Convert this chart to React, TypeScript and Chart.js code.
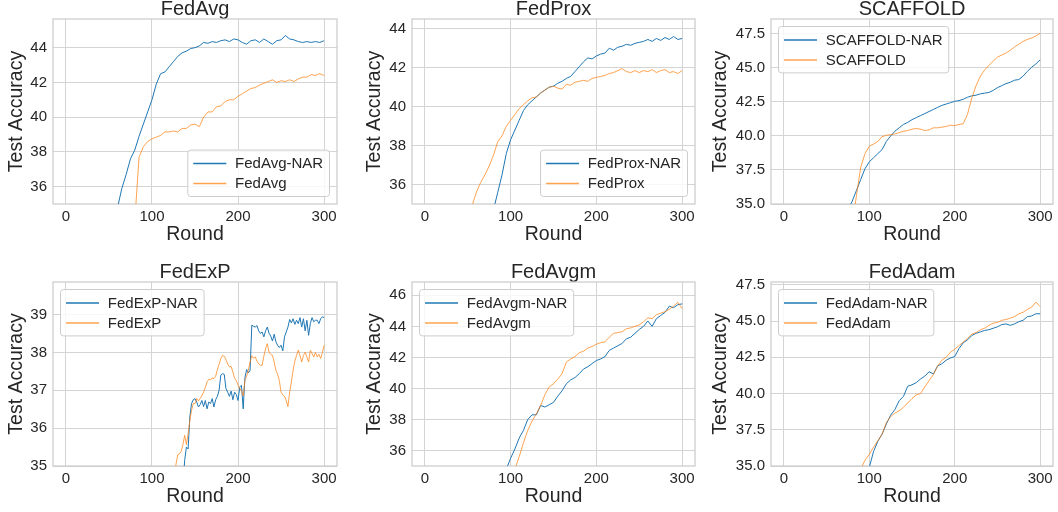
import React, { useEffect, useRef } from 'react';
import { Chart, registerables } from 'chart.js';

Chart.register(...registerables);

const FONT = '"Liberation Sans", Arial, Helvetica, sans-serif';
const TEXT = '#262626';
const GRID = '#d4d4d4';
const BLUE = '#1f77b4';
const ORANGE = 'rgba(255,127,14,0.72)';

// Communication rounds; each series below ends at round 300 and is aligned to the tail of its round list
const ROUNDS_5 = [0, 5, 10, 15, 20, 25, 30, 35, 40, 45, 50, 55, 60, 65, 70, 75, 80, 85, 90, 95,
  100, 105, 110, 115, 120, 125, 130, 135, 140, 145, 150, 155, 160, 165, 170, 175, 180, 185, 190, 195,
  200, 205, 210, 215, 220, 225, 230, 235, 240, 245, 250, 255, 260, 265, 270, 275, 280, 285, 290, 295, 300];
const ROUNDS_2 = [0, 2, 4, 6, 8, 10, 12, 14, 16, 18, 20, 22, 24, 26, 28, 30, 32, 34, 36, 38, 40, 42, 44, 46, 48,
  50, 52, 54, 56, 58, 60, 62, 64, 66, 68, 70, 72, 74, 76, 78, 80, 82, 84, 86, 88, 90, 92, 94, 96, 98,
  100, 102, 104, 106, 108, 110, 112, 114, 116, 118, 120, 122, 124, 126, 128, 130, 132, 134, 136, 138,
  140, 142, 144, 146, 148, 150, 152, 154, 156, 158, 160, 162, 164, 166, 168, 170, 172, 174, 176, 178,
  180, 182, 184, 186, 188, 190, 192, 194, 196, 198, 200, 202, 204, 206, 208, 210, 212, 214, 216, 218,
  220, 222, 224, 226, 228, 230, 232, 234, 236, 238, 240, 242, 244, 246, 248, 250, 252, 254, 256, 258,
  260, 262, 264, 266, 268, 270, 272, 274, 276, 278, 280, 282, 284, 286, 288, 290, 292, 294, 296, 298, 300];

const X_TICKS = [0, 100, 200, 300];

// FedAvg (every 5 rounds)
const FEDAVG_NAR = [33.5, 34.8, 35.9, 36.7, 37.6, 38.1, 38.9, 39.6, 40.3, 41.0, 41.9, 42.5, 42.6, 42.9, 43.2, 43.5, 43.7, 43.8, 43.95, 44.0, 44.1, 44.3, 44.25, 44.35, 44.3, 44.4, 44.45, 44.35, 44.5, 44.45, 44.3, 44.2, 44.4, 44.45, 44.3, 44.5, 44.35, 44.2, 44.4, 44.45, 44.7, 44.5, 44.45, 44.35, 44.3, 44.35, 44.3, 44.35, 44.3, 44.4];
const FEDAVG = [34.0, 37.7, 38.3, 38.6, 38.75, 38.85, 38.95, 39.15, 39.15, 39.2, 39.15, 39.35, 39.35, 39.55, 39.6, 39.45, 40.0, 40.3, 40.3, 40.6, 40.65, 40.9, 41.0, 41.0, 41.2, 41.35, 41.5, 41.65, 41.7, 41.85, 41.95, 42.05, 42.15, 42.0, 42.1, 42.05, 42.15, 42.05, 42.2, 42.3, 42.3, 42.45, 42.4, 42.5, 42.4];
const FEDAVG_Y_TICKS = [36, 38, 40, 42, 44];

// FedProx (every 5 rounds)
const FEDPROX_NAR = [33.8, 34.7, 35.6, 36.5, 37.6, 38.3, 38.8, 39.3, 39.8, 40.1, 40.3, 40.5, 40.7, 40.85, 41.0, 41.05, 41.2, 41.3, 41.45, 41.55, 41.8, 42.05, 42.3, 42.5, 42.45, 42.6, 42.7, 42.75, 43.0, 42.9, 43.05, 43.1, 43.2, 43.15, 43.25, 43.3, 43.35, 43.45, 43.35, 43.5, 43.4, 43.55, 43.45, 43.6, 43.45, 43.5];
const FEDPROX = [34.2, 34.9, 35.6, 36.1, 36.5, 36.95, 37.5, 38.2, 38.5, 39.0, 39.3, 39.6, 39.9, 40.1, 40.3, 40.45, 40.5, 40.7, 40.85, 41.0, 41.05, 40.95, 40.9, 41.15, 41.1, 41.25, 41.3, 41.35, 41.3, 41.45, 41.5, 41.55, 41.6, 41.7, 41.75, 41.85, 41.95, 41.8, 41.75, 41.85, 41.75, 41.85, 41.8, 41.9, 41.75, 41.85, 41.9, 41.75, 41.8, 41.7, 41.85];
const FEDPROX_Y_TICKS = [36, 38, 40, 42, 44];

// SCAFFOLD (every 5 rounds)
const SCAFFOLD_NAR = [34.6, 35.2, 36.0, 36.8, 37.6, 38.1, 38.4, 38.7, 39.0, 39.6, 40.0, 40.35, 40.6, 40.85, 41.0, 41.2, 41.35, 41.5, 41.65, 41.8, 41.95, 42.1, 42.25, 42.35, 42.45, 42.55, 42.6, 42.7, 42.85, 42.95, 43.0, 43.1, 43.15, 43.2, 43.35, 43.55, 43.7, 43.85, 43.95, 44.1, 44.15, 44.4, 44.75, 45.05, 45.3, 45.6];
const SCAFFOLD = [33.5, 35.6, 37.7, 38.7, 39.25, 39.4, 39.6, 39.95, 40.05, 40.1, 40.15, 40.25, 40.35, 40.4, 40.5, 40.55, 40.5, 40.4, 40.45, 40.6, 40.6, 40.65, 40.7, 40.8, 40.75, 40.85, 40.9, 41.6, 42.8, 43.7, 44.4, 44.85, 45.2, 45.5, 45.8, 45.95, 46.1, 46.3, 46.55, 46.75, 46.95, 47.1, 47.2, 47.35, 47.55];
const SCAFFOLD_Y_TICKS = [35, 37.5, 40, 42.5, 45, 47.5];

// FedExP (every 2 rounds)
const FEDEXP_NAR = [34.5, 35.15, 35.5, 35.45, 36.3, 36.65, 36.75, 36.78, 36.69, 36.56, 36.62, 36.73, 36.57, 36.73, 36.51, 36.69, 36.65, 36.78, 36.56, 36.75,
  36.84, 37.0, 37.4, 37.44, 37.42, 37.04, 36.95, 36.84, 36.98, 36.75, 36.95, 36.89, 36.73, 37.09, 37.13, 36.51, 37.33, 37.55, 37.46, 37.53,
  38.72, 38.69, 38.67, 38.71, 38.57, 38.5, 38.54, 38.41, 38.57, 38.67, 38.51, 38.43, 38.3, 38.48, 38.28, 38.19, 38.13, 38.19, 38.04, 38.41,
  38.54, 38.67, 38.87, 38.78, 38.89, 38.74, 38.85, 38.76, 38.92, 38.67, 38.89, 38.57, 38.85, 38.45, 38.76, 38.92, 38.81, 38.85, 38.85, 38.76,
  38.89, 38.94, 38.92];
const FEDEXP = [34.7, 35.06, 35.3, 35.32, 35.39, 35.57, 35.81, 35.57, 35.85, 36.2, 36.47, 36.65, 36.65, 36.78, 36.72, 36.78, 36.86, 36.95, 37.07, 37.22,
  37.29, 37.28, 37.32, 37.31, 37.37, 37.55, 37.69, 37.84, 37.92, 37.9, 37.81, 37.69, 37.62, 37.63, 37.48, 37.32, 37.26, 37.14, 37.05, 36.98,
  36.85, 37.26, 37.37, 37.53, 37.75, 37.91, 37.85, 37.88, 37.77, 37.7, 37.66, 37.66, 37.9, 38.1, 38.23, 38.01, 37.95, 37.92, 37.75, 37.53,
  37.42, 37.26, 36.95, 36.87, 36.84, 36.73, 36.57, 36.95, 37.22, 37.53, 37.77, 37.92, 38.06, 37.92, 37.75, 37.92, 38.01, 37.88, 37.75, 38.06,
  37.97, 37.88, 38.0, 37.88, 37.95, 37.84, 37.99, 38.19];
const FEDEXP_Y_TICKS = [35, 36, 37, 38, 39];

// FedAvgm (every 5 rounds)
const FEDAVGM_NAR = [34.3, 34.8, 35.5, 36.1, 36.8, 37.3, 38.0, 38.3, 38.3, 38.9, 38.8, 38.95, 39.1, 39.5, 39.85, 40.3, 40.55, 40.7, 40.95, 41.25, 41.4, 41.6, 41.8, 41.9, 42.05, 42.45, 42.6, 42.75, 42.9, 43.2, 43.3, 43.55, 43.8, 44.0, 44.35, 44.0, 44.5, 44.7, 44.9, 45.3, 45.2, 45.4, 45.45];
const FEDAVGM = [33.8, 34.8, 35.6, 36.5, 37.3, 37.9, 38.35, 38.9, 39.6, 40.1, 40.3, 40.6, 40.95, 41.7, 41.9, 42.05, 42.3, 42.4, 42.6, 42.7, 42.85, 42.95, 43.0, 43.3, 43.55, 43.6, 43.65, 43.85, 43.9, 44.0, 44.1, 44.3, 44.55, 44.5, 44.75, 44.85, 44.95, 45.1, 45.3, 45.55, 45.15];
const FEDAVGM_Y_TICKS = [36, 38, 40, 42, 44, 46];

// FedAdam (every 5 rounds)
const FEDADAM_NAR = [34.0, 34.9, 36.0, 36.7, 37.2, 37.9, 38.5, 38.9, 39.5, 39.8, 40.5, 40.6, 40.75, 41.0, 41.2, 41.5, 41.35, 41.9, 42.05, 42.3, 42.45, 42.55, 43.1, 43.5, 43.7, 44.0, 44.15, 44.25, 44.35, 44.4, 44.5, 44.6, 44.75, 44.8, 44.7, 44.8, 44.95, 45.05, 45.3, 45.35, 45.5, 45.5];
const FEDADAM = [34.0, 34.8, 35.4, 35.8, 36.3, 36.75, 37.2, 38.0, 38.4, 38.65, 38.8, 39.05, 39.35, 39.65, 39.9, 40.0, 40.45, 40.9, 41.3, 41.9, 42.3, 42.5, 42.85, 43.05, 43.3, 43.55, 43.8, 44.1, 44.2, 44.4, 44.5, 44.7, 44.85, 44.9, 45.05, 45.1, 45.2, 45.3, 45.5, 45.6, 45.8, 45.95, 46.3, 46.0];
const FEDADAM_Y_TICKS = [35, 37.5, 40, 42.5, 45, 47.5];

type Loc = 'lower right' | 'upper left';
interface PanelDef {
  title: string;
  names: [string, string];
  rounds: number[];
  nar: number[];
  base: number[];
  yMax: number;
  yTicks: number[];
  decimals: number;
  legend: Loc;
}

const PANELS: PanelDef[] = [
  { title: 'FedAvg', names: ['FedAvg-NAR', 'FedAvg'], rounds: ROUNDS_5, nar: FEDAVG_NAR, base: FEDAVG, yMax: 45.65, yTicks: FEDAVG_Y_TICKS, decimals: 0, legend: 'lower right' },
  { title: 'FedProx', names: ['FedProx-NAR', 'FedProx'], rounds: ROUNDS_5, nar: FEDPROX_NAR, base: FEDPROX, yMax: 44.5, yTicks: FEDPROX_Y_TICKS, decimals: 0, legend: 'lower right' },
  { title: 'SCAFFOLD', names: ['SCAFFOLD-NAR', 'SCAFFOLD'], rounds: ROUNDS_5, nar: SCAFFOLD_NAR, base: SCAFFOLD, yMax: 48.6, yTicks: SCAFFOLD_Y_TICKS, decimals: 1, legend: 'upper left' },
  { title: 'FedExP', names: ['FedExP-NAR', 'FedExP'], rounds: ROUNDS_2, nar: FEDEXP_NAR, base: FEDEXP, yMax: 39.86, yTicks: FEDEXP_Y_TICKS, decimals: 0, legend: 'upper left' },
  { title: 'FedAvgm', names: ['FedAvgm-NAR', 'FedAvgm'], rounds: ROUNDS_5, nar: FEDAVGM_NAR, base: FEDAVGM, yMax: 46.86, yTicks: FEDAVGM_Y_TICKS, decimals: 0, legend: 'upper left' },
  { title: 'FedAdam', names: ['FedAdam-NAR', 'FedAdam'], rounds: ROUNDS_5, nar: FEDADAM_NAR, base: FEDADAM, yMax: 47.69, yTicks: FEDADAM_Y_TICKS, decimals: 1, legend: 'upper left' },
];

// Layout of the grid (canvas boxes and axis sizes)
const COLS = [
  { left: 1, width: 344, yAxisW: 52, padR: 8 },
  { left: 359, width: 344, yAxisW: 53, padR: 8 },
  { left: 705, width: 353, yAxisW: 66, padR: 5 },
];
const ROWS = [
  { top: 0, height: 246 },
  { top: 263, height: 245 },
];
const X_AXIS_H = 42;

function toPoints(rounds: number[], values: number[]) {
  const xs = rounds.slice(rounds.length - values.length);
  return values.map((y, i) => ({ x: xs[i], y }));
}

const framePlugin = {
  id: 'frame',
  beforeDatasetsDraw(chart: any) {
    const { ctx, chartArea: a } = chart;
    ctx.save();
    ctx.strokeStyle = '#cccccc';
    ctx.lineWidth = 1.25;
    ctx.strokeRect(a.left, a.top, a.right - a.left, a.bottom - a.top);
    ctx.restore();
  },
};

const boxLegendPlugin = {
  id: 'boxLegend',
  afterDatasetsDraw(chart: any, _args: any, opts: any) {
    const { ctx, chartArea: a } = chart;
    const ds = chart.data.datasets;
    ctx.save();
    ctx.font = `15px ${FONT}`;
    const textW = Math.max(...ds.map((d: any) => ctx.measureText(d.label).width));
    const w = 47.3 + textW + 6.3;
    const h = 46.4;
    const pad = 7.5;
    const x = opts.loc === 'lower right' ? a.right - pad - w : a.left + pad;
    const y = opts.loc === 'lower right' ? a.bottom - pad - h : a.top + pad;
    const r = 3;
    ctx.beginPath();
    ctx.moveTo(x + r, y);
    ctx.lineTo(x + w - r, y);
    ctx.arcTo(x + w, y, x + w, y + r, r);
    ctx.lineTo(x + w, y + h - r);
    ctx.arcTo(x + w, y + h, x + w - r, y + h, r);
    ctx.lineTo(x + r, y + h);
    ctx.arcTo(x, y + h, x, y + h - r, r);
    ctx.lineTo(x, y + r);
    ctx.arcTo(x, y, x + r, y, r);
    ctx.closePath();
    ctx.fillStyle = 'rgba(255,255,255,0.8)';
    ctx.fill();
    ctx.strokeStyle = '#cccccc';
    ctx.lineWidth = 1;
    ctx.stroke();
    ds.forEach((d: any, i: number) => {
      const cy = y + 13.4 + i * 20;
      ctx.strokeStyle = d.borderColor;
      ctx.lineWidth = 1.5;
      ctx.beginPath();
      ctx.moveTo(x + 5.5, cy);
      ctx.lineTo(x + 38.5, cy);
      ctx.stroke();
      ctx.fillStyle = TEXT;
      ctx.textAlign = 'left';
      ctx.textBaseline = 'middle';
      ctx.fillText(d.label, x + 47.3, cy + 0.5);
    });
    ctx.restore();
  },
};

function Panel({ def, col, row }: { def: PanelDef; col: number; row: number }) {
  const ref = useRef<HTMLCanvasElement>(null);
  const c = COLS[col];
  const r = ROWS[row];

  useEffect(() => {
    const canvas = ref.current;
    if (!canvas) return;
    const chart = new Chart(canvas, {
      type: 'line',
      data: {
        datasets: [
          { label: def.names[0], data: toPoints(def.rounds, def.nar), borderColor: BLUE, backgroundColor: BLUE, borderWidth: 1, pointRadius: 0, tension: 0, fill: false, order: 1 },
          { label: def.names[1], data: toPoints(def.rounds, def.base), borderColor: ORANGE, backgroundColor: ORANGE, borderWidth: 1, pointRadius: 0, tension: 0, fill: false, order: 0 },
        ],
      },
      options: {
        animation: false,
        responsive: false,
        maintainAspectRatio: false,
        devicePixelRatio: 1,
        parsing: false as any,
        normalized: true,
        events: [],
        layout: { padding: { left: 0, right: c.padR, top: 0, bottom: 0 } },
        plugins: {
          legend: { display: false },
          tooltip: { enabled: false },
          title: {
            display: true,
            text: def.title,
            color: TEXT,
            fullSize: false,
            padding: 0,
            font: { family: FONT, size: 20, weight: 'normal', lineHeight: 0.95 },
          },
          boxLegend: { loc: def.legend },
        } as any,
        scales: {
          x: {
            type: 'linear',
            min: -15,
            max: 315,
            afterBuildTicks: (scale: any) => { scale.ticks = X_TICKS.map((v) => ({ value: v })); },
            afterFit: (scale: any) => { scale.height = X_AXIS_H; },
            ticks: { color: TEXT, padding: 4, font: { family: FONT, size: 15 }, maxRotation: 0, autoSkip: false, callback: (v: any) => String(v) },
            grid: { color: GRID, lineWidth: 1, drawTicks: false },
            border: { display: false },
            title: { display: true, text: 'Round', color: TEXT, padding: { top: 0, bottom: 0 }, font: { family: FONT, size: 19.5 } },
          },
          y: {
            type: 'linear',
            min: 35,
            max: def.yMax,
            afterBuildTicks: (scale: any) => { scale.ticks = def.yTicks.map((v) => ({ value: v })); },
            afterFit: (scale: any) => { scale.width = c.yAxisW; },
            ticks: { color: TEXT, padding: 6, font: { family: FONT, size: 15 }, autoSkip: false, callback: (v: any) => Number(v).toFixed(def.decimals) },
            grid: { color: GRID, lineWidth: 1, drawTicks: false },
            border: { display: false },
            title: { display: true, text: 'Test Accuracy', color: TEXT, padding: { top: 4, bottom: 0 }, font: { family: FONT, size: 19.5 } },
          },
        },
      },
      plugins: [framePlugin, boxLegendPlugin],
    } as any);
    return () => chart.destroy();
  }, []);

  return (
    <canvas
      ref={ref}
      width={c.width}
      height={r.height}
      style={{ position: 'absolute', left: c.left, top: r.top, width: c.width, height: r.height }}
    />
  );
}

export default function App() {
  Chart.defaults.font.family = FONT;
  return (
    <div style={{ position: 'fixed', left: 0, top: 0, width: 1058, height: 512, background: '#ffffff', overflow: 'hidden' }}>
      {PANELS.map((p, i) => (
        <Panel key={p.title} def={p} col={i % 3} row={Math.floor(i / 3)} />
      ))}
    </div>
  );
}
